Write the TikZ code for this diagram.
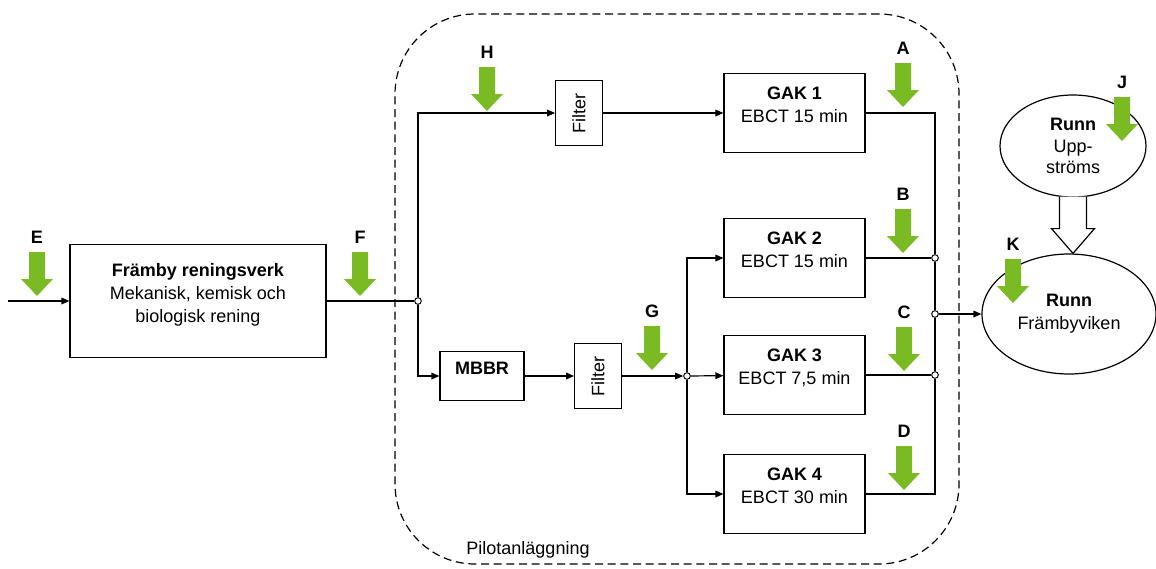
\documentclass[tikz,border=0pt]{standalone}
\usepackage{fontspec}
\setmainfont{Liberation Sans}
\usetikzlibrary{shapes.geometric, arrows.meta, positioning, calc}
\definecolor{leaf}{RGB}{122,187,36}

\begin{document}
\begin{tikzpicture}[
    x=0.75pt, y=-0.75pt,
    line width=0.9pt,
    font=\fontsize{13.5}{17}\selectfont,
    box/.style={
      draw,
      fill=white,
      align=center,
      inner sep=2pt,
      minimum width=105.75pt,
      minimum height=59.25pt,
      execute at end node={\rule[-12pt]{0pt}{0pt}}
    },
    filt/.style={draw, fill=white, rotate=90, inner sep=0pt,
      minimum width=48.75pt, minimum height=35pt},
    pond/.style={draw, fill=white, ellipse, align=center, inner sep=0pt},
    dot/.style={circle, draw, fill=white, inner sep=0pt, minimum size=5pt, line width=0.7pt},
    frame/.style={draw, dash pattern=on 6pt off 3.5pt, rounded corners=60pt,
      inner sep=0pt, minimum width=423pt, minimum height=412.5pt},
    tag/.style={font=\fontsize{13.5}{16}\selectfont\bfseries},
    arrow/.style={-{Triangle[length=6pt, width=5pt]}},
    probe/.pic={
      \fill[leaf] (-8,0) -- (8,0) -- (8,27) -- (16,27) -- (0,44) -- (-16,27) -- (-8,27) -- cycle;
      \node[tag] (-tag) at (0,-15) {#1};
    }
  ]
    \useasboundingbox (0,0) rectangle (1156,568);

    \node[frame] (pilot) at (677,289) {};
    \node (pilotname) at (528,550) {Pilotanläggning};

    \node[box, minimum width=192pt, minimum height=84.75pt] (plant) at (198,301)
      {\textbf{Främby reningsverk}\\Mekanisk, kemisk och\\biologisk rening};
    \node[filt] (filt1) at (579,113) {Filter};
    \node[box, minimum width=63pt, minimum height=36.75pt] (mbbr) at (482,376) {\textbf{MBBR}};
    \node[filt] (filt2) at (598,376) {Filter};

    \node[box] (gak1) at (794.5,113) {\textbf{GAK 1}\\EBCT 15 min};
    \node[box] (gak2) at (794.5,258) {\textbf{GAK 2}\\EBCT 15 min};
    \node[box] (gak3) at (794.5,375) {\textbf{GAK 3}\\EBCT 7,5 min};
    \node[box] (gak4) at (794.5,494) {\textbf{GAK 4}\\EBCT 30 min};

    \node[pond, minimum width=109.5pt, minimum height=76.5pt,
      font=\fontsize{13.5}{16}\selectfont] (upp) at (1073,146)
      {\textbf{Runn}\\Upp-\\ströms};
    \node[pond, minimum width=130.5pt, minimum height=90pt] (fram) at (1069,314)
      {\textbf{Runn}\\Främbyviken};

    \coordinate (src) at (8,301);
    \node[dot] (j1) at (418,301) {};
    \node[dot] (j2) at (687,376) {};
    \node[dot] (j3) at (935,258) {};
    \node[dot] (j4) at (935,314) {};
    \node[dot] (j5) at (935,375) {};

    \draw[arrow] (src) -- (plant);
    \draw (plant) -- (j1);
    \draw[arrow] (j1) |- (filt1);
    \draw[arrow] (j1) |- (mbbr);
    \draw[arrow] (filt1) -- (gak1);
    \draw[arrow] (mbbr) -- (filt2);
    \draw[arrow] (filt2) -- (j2);
    \draw[arrow] (j2) |- (gak2);
    \draw[arrow] (j2) -- (gak3);
    \draw[arrow] (j2) |- (gak4);

    \draw (gak1) -| (j3);
    \draw (gak2) -- (j3);
    \draw (j3) -- (j4);
    \draw (j4) -- (j5);
    \draw (gak3) -- (j5);
    \draw (gak4) -| (j5);
    \draw[arrow] (j4) -- (fram);

    \draw[fill=white] ($(upp.south)+(-13.5,-1)$) -- ($(upp.south)+(-13.5,31)$)
      -- ($(upp.south)+(-21.5,31)$) -- (upp.south |- fram.north)
      -- ($(upp.south)+(21.5,31)$) -- ($(upp.south)+(13.5,31)$)
      -- ($(upp.south)+(13.5,-1)$);

    \pic (pE) at (37,252) {probe=E};
    \pic (pF) at (360,252) {probe=F};
    \pic (pH) at (487,67) {probe=H};
    \pic (pA) at (903,63) {probe=A};
    \pic (pB) at (903,209) {probe=B};
    \pic (pG) at (652,326) {probe=G};
    \pic (pC) at (904,327) {probe=C};
    \pic (pD) at (904,446) {probe=D};
    \pic (pJ) at (1122,97) {probe=J};
    \pic (pK) at (1013,259) {probe=K};
  \end{tikzpicture}
\end{document}
